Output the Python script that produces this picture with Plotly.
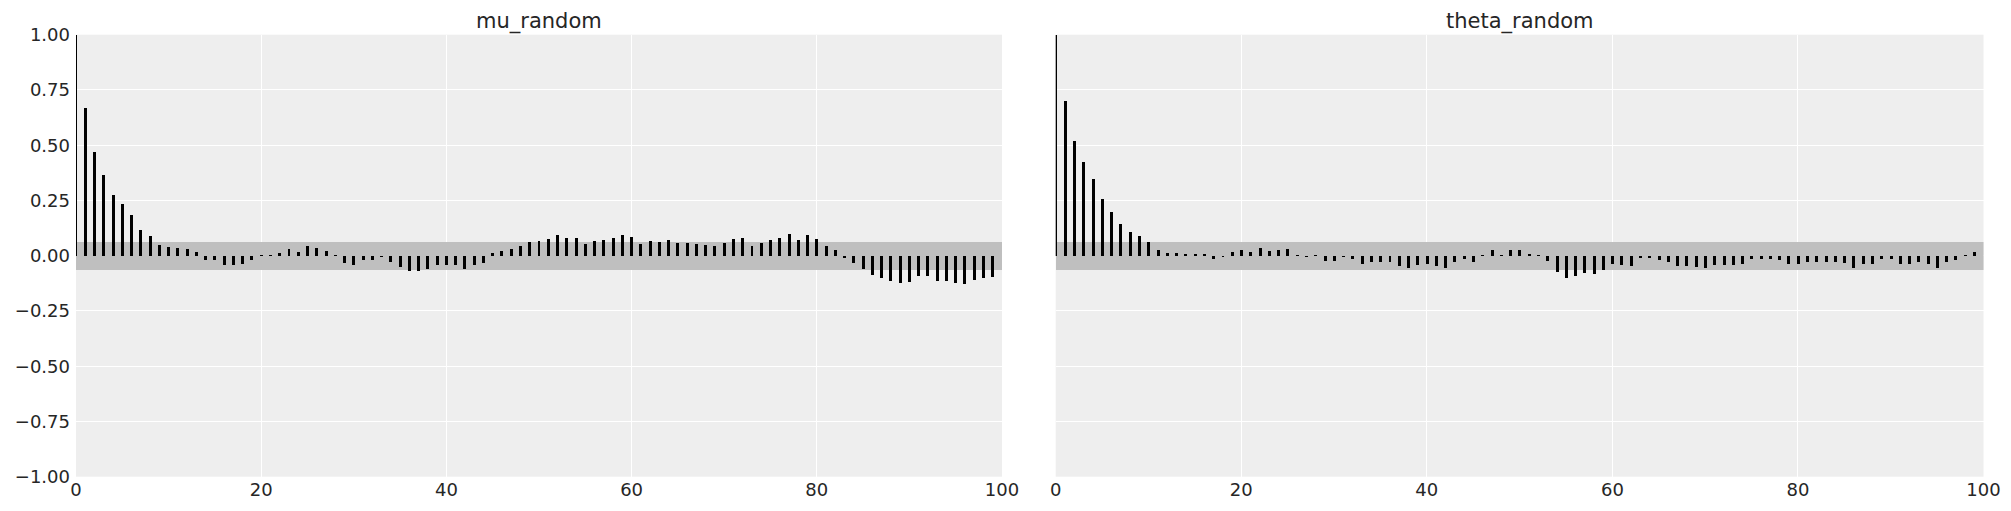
import plotly.graph_objects as go

# ---- data -------------------------------------------------------------
lags = list(range(100))

mu_random_acf = [
    1.0, 0.670, 0.471, 0.367, 0.276, 0.235, 0.185, 0.117, 0.089, 0.048,
    0.039, 0.035, 0.032, 0.018, -0.020, -0.020, -0.042, -0.040, -0.035, -0.018,
    0.002, 0.002, 0.015, 0.032, 0.018, 0.045, 0.036, 0.024, 0.002, -0.030,
    -0.040, -0.020, -0.018, -0.002, -0.027, -0.052, -0.070, -0.070, -0.057, -0.039,
    -0.040, -0.040, -0.060, -0.041, -0.030, 0.014, 0.021, 0.032, 0.045, 0.062,
    0.067, 0.077, 0.094, 0.082, 0.082, 0.055, 0.068, 0.073, 0.083, 0.095,
    0.086, 0.056, 0.067, 0.062, 0.071, 0.058, 0.058, 0.056, 0.050, 0.047,
    0.058, 0.077, 0.080, 0.044, 0.058, 0.073, 0.082, 0.098, 0.071, 0.094,
    0.076, 0.045, 0.027, -0.005, -0.033, -0.060, -0.088, -0.100, -0.115, -0.120,
    -0.118, -0.090, -0.090, -0.112, -0.112, -0.120, -0.127, -0.109, -0.100, -0.094,
]

theta_random_acf = [
    1.0, 0.703, 0.521, 0.426, 0.348, 0.256, 0.198, 0.144, 0.108, 0.089,
    0.062, 0.026, 0.012, 0.012, 0.005, 0.006, 0.009, -0.015, -0.004, 0.018,
    0.026, 0.018, 0.036, 0.024, 0.027, 0.032, 0.003, -0.002, 0.001, -0.021,
    -0.024, -0.003, -0.015, -0.037, -0.029, -0.029, -0.029, -0.047, -0.056, -0.041,
    -0.035, -0.044, -0.053, -0.029, -0.014, -0.029, 0.001, 0.028, 0.004, 0.026,
    0.029, 0.005, 0.001, -0.021, -0.074, -0.098, -0.092, -0.077, -0.083, -0.062,
    -0.036, -0.041, -0.044, -0.010, -0.008, -0.017, -0.029, -0.047, -0.047, -0.050,
    -0.056, -0.041, -0.041, -0.041, -0.038, -0.014, -0.014, -0.014, -0.020, -0.038,
    -0.038, -0.029, -0.029, -0.029, -0.029, -0.032, -0.053, -0.038, -0.038, -0.014,
    -0.014, -0.038, -0.038, -0.029, -0.038, -0.056, -0.029, -0.017, 0.003, 0.017,
]

panel_titles = ["mu_random", "theta_random"]
conf_band = 0.063
max_lag = 100

x_ticks = [0, 20, 40, 60, 80, 100]
x_tick_labels = ["0", "20", "40", "60", "80", "100"]
y_ticks = [1.0, 0.75, 0.5, 0.25, 0.0, -0.25, -0.5, -0.75, -1.0]
y_tick_labels = ["1.00", "0.75", "0.50", "0.25", "0.00",
                 "\u22120.25", "\u22120.50", "\u22120.75", "\u22121.00"]

# ---- figure -----------------------------------------------------------
W, H = 2011, 511
OFF = 8  # default page body margin
FONT = "DejaVu Sans"
TXT = "#262626"
PANEL_BG = "#eeeeee"
BAND = "#bfbfbf"

fig = go.Figure()

series = [mu_random_acf, theta_random_acf]
for i, vals in enumerate(series):
    xa = "x" if i == 0 else "x2"
    ya = "y" if i == 0 else "y2"
    # confidence band (drawn first, beneath the lag bars)
    fig.add_trace(go.Bar(
        x=[max_lag / 2], y=[2 * conf_band], base=[-conf_band], width=[max_lag],
        marker=dict(color=BAND, line=dict(width=0)), hoverinfo="skip",
        showlegend=False, xaxis=xa, yaxis=ya,
    ))
    fig.add_trace(go.Bar(
        x=lags, y=vals, width=0.32,
        marker=dict(color="black", line=dict(width=0)),
        showlegend=False, xaxis=xa, yaxis=ya,
    ))

x_domains = [[(76 - OFF) / W, (1002 - OFF) / W],
             [(1055.7 - OFF) / W, (1983.5 - OFF) / W]]
y_domain = [1 - (476.7 - OFF) / H, 1 - (34.7 - OFF) / H]

common_x = dict(
    range=[0, max_lag], tickmode="array", tickvals=x_ticks, ticktext=x_tick_labels,
    showgrid=True, gridcolor="white", gridwidth=1.2, zeroline=False,
    showline=False, ticks="", ticklen=0, automargin=False,
    tickfont=dict(family=FONT, size=18, color=TXT),
)
common_y = dict(
    range=[-1, 1], tickmode="array", tickvals=y_ticks,
    showgrid=True, gridcolor="white", gridwidth=1.2, zeroline=False,
    showline=False, ticks="", ticklen=0, automargin=False,
    ticklabelstandoff=5,
    tickfont=dict(family=FONT, size=18, color=TXT),
)

fig.update_layout(
    width=W, height=H,
    margin=dict(l=0, r=0, t=0, b=0, autoexpand=False),
    paper_bgcolor="white",
    plot_bgcolor=PANEL_BG,
    barmode="overlay",
    bargap=0,
    font=dict(family=FONT, color=TXT),
    xaxis=dict(domain=x_domains[0], anchor="y", **common_x),
    xaxis2=dict(domain=x_domains[1], anchor="y2", **common_x),
    yaxis=dict(domain=y_domain, anchor="x", ticktext=y_tick_labels,
               showticklabels=True, **common_y),
    yaxis2=dict(domain=y_domain, anchor="x2", ticktext=y_tick_labels,
                showticklabels=False, matches="y", **common_y),
)

for i, title in enumerate(panel_titles):
    fig.add_annotation(
        text=title, xref="paper", yref="paper",
        x=(x_domains[i][0] + x_domains[i][1]) / 2, y=y_domain[1],
        xanchor="center", yanchor="bottom", yshift=-1, showarrow=False,
        font=dict(family=FONT, size=21, color=TXT),
    )

fig.write_html("out.html")
